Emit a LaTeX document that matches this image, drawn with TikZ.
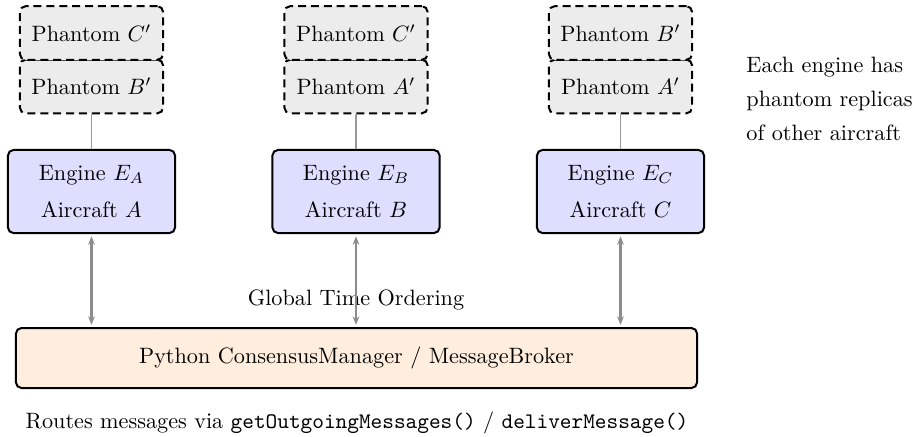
\documentclass[tikz,border=0pt]{standalone}
\usetikzlibrary{arrows.meta}

\tikzset{
  enginebox/.style={draw, line width=0.9pt, rounded corners=2.5pt, fill=blue!13,
    minimum width=75.2pt, minimum height=37.4pt, align=center, inner sep=0pt},
  phantombox/.style={draw, line width=0.9pt, dash pattern=on 3.6pt off 2.2pt,
    rounded corners=2.5pt, fill=gray!15,
    minimum width=64.4pt, minimum height=24.1pt, inner sep=0pt},
  brokerbox/.style={draw, line width=0.9pt, rounded corners=2.5pt, fill=orange!13,
    minimum width=306.5pt, minimum height=27pt, inner sep=0pt},
  link/.style={gray!80, semithick},
  msg/.style={gray!90, line width=1pt, {Stealth[length=3.8pt,width=3pt]}-{Stealth[length=3.8pt,width=3pt]}}
}

\begin{document}
\begin{tikzpicture}[x=0.45pt, y=-0.45pt]
  \useasboundingbox (0,0) rectangle (917,436);

  % engines
  \node[enginebox] (ea) at (91.5,191.5) {Engine $E_A$\\[5pt]Aircraft $A$};
  \node[enginebox] (eb) at (356,191.5)  {Engine $E_B$\\[5pt]Aircraft $B$};
  \node[enginebox] (ec) at (620.5,191.5) {Engine $E_C$\\[5pt]Aircraft $C$};

  % phantom replicas
  \node[phantombox] (pa2) at (91.5,86.5) {Phantom $B'$};
  \node[phantombox] (pa1) at (91.5,33)   {Phantom $C'$};
  \node[phantombox] (pb2) at (356,86.5)  {Phantom $A'$};
  \node[phantombox] (pb1) at (356,33)    {Phantom $C'$};
  \node[phantombox] (pc2) at (620.5,86.5) {Phantom $A'$};
  \node[phantombox] (pc1) at (620.5,33)   {Phantom $B'$};

  \draw[link] (pa2.south) -- (ea.north);
  \draw[link] (pb2.south) -- (eb.north);
  \draw[link] (pc2.south) -- (ec.north);

  % broker
  \node[brokerbox] (broker) at (356.5,358) {Python ConsensusManager / MessageBroker};
  \node (order) at (356,300) {Global Time Ordering};

  \coordinate (ba) at (ea.south |- broker.north);
  \coordinate (bb) at (eb.south |- broker.north);
  \coordinate (bc) at (ec.south |- broker.north);
  \draw[msg] ([yshift=-1pt]ea.south) -- ([yshift=1pt]ba);
  \draw[msg] ([yshift=-1pt]eb.south) -- ([yshift=1pt]bb);
  \draw[msg] ([yshift=-1pt]ec.south) -- ([yshift=1pt]bc);

  \node (routes) at (357,423) {Routes messages via \texttt{getOutgoingMessages()} / \texttt{deliverMessage()}};

  \node[anchor=west, align=left, inner sep=0pt] (note) at (746,98.5)
    {Each engine has\\[3.3pt]phantom replicas\\[3.3pt]of other aircraft};
\end{tikzpicture}
\end{document}
